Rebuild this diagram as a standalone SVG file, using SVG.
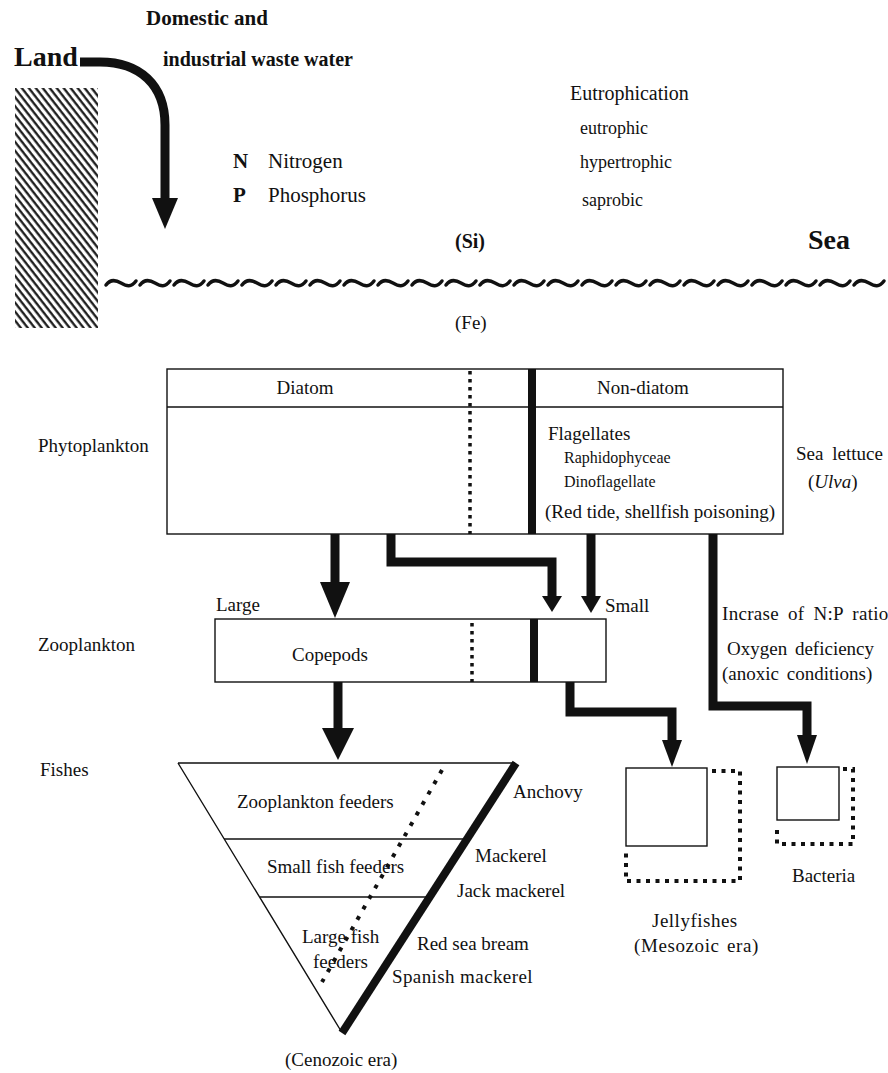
<svg xmlns="http://www.w3.org/2000/svg" xmlns:xlink="http://www.w3.org/1999/xlink" width="888" height="1073" viewBox="0 0 888 1073" font-family="'Liberation Serif', 'DejaVu Serif', serif">
<style>
text{font-family:'Liberation Serif','DejaVu Serif',serif;fill:#111;font-size:19px}
.b{font-weight:bold}
.s16{font-size:16px}
.s18{font-size:18px}
.s20{font-size:20px}
.s21{font-size:21px}
.s28{font-size:28px}
.mid{text-anchor:middle}
.box{fill:none;stroke:#111;stroke-width:1.4}
.thick{stroke:#111;stroke-width:8;fill:none}
.dots{stroke:#111;stroke-width:3.5;stroke-dasharray:3.5 4.5;fill:none}
.dots2{stroke:#111;stroke-width:4;stroke-dasharray:4 5.5;fill:none}
.shaft{stroke:#111;fill:none;stroke-width:9;stroke-linejoin:miter}
.head{fill:#111;stroke:none}
.thin{stroke:#111;stroke-width:1.4;fill:none}
</style>
<defs>
<pattern id="hatch" width="5.5" height="10" patternUnits="userSpaceOnUse" patternTransform="rotate(-38)">
<line x1="1.5" y1="0" x2="1.5" y2="10" stroke="#111" stroke-width="2.2"/>
</pattern>
<path id="tilde" d="M0 3 C4 -2.5 9 -2.5 15 1 S25 5.5 30 -1" fill="none" stroke="#111" stroke-width="3.5" stroke-linecap="round"/>
</defs>

<g id="land">
<rect x="15" y="88" width="83" height="240" fill="url(#hatch)"/>
<text class="b s28" x="14" y="66">Land</text>
</g>

<g id="waste-label">
<text class="b s21" x="146" y="25">Domestic and</text>
<text class="b s20" x="163" y="66">industrial waste water</text>
</g>

<g id="nutrients">
<text class="b s21" x="233" y="168">N</text>
<text class="s21" x="268" y="168">Nitrogen</text>
<text class="b s21" x="233" y="202">P</text>
<text class="s21" x="268" y="202">Phosphorus</text>
</g>

<g id="eutrophication">
<text class="s20" x="570" y="100">Eutrophication</text>
<text class="s18" x="580" y="134">eutrophic</text>
<text class="s18" x="580" y="168">hypertrophic</text>
<text class="s18" x="582" y="206">saprobic</text>
</g>

<g id="sea">
<text class="b s20" x="455" y="248">(Si)</text>
<text class="b s28" x="808" y="249">Sea</text>
<g id="surface">
<use xlink:href="#tilde" x="106" y="282"/><use xlink:href="#tilde" x="140" y="282"/><use xlink:href="#tilde" x="174" y="282"/><use xlink:href="#tilde" x="208" y="282"/><use xlink:href="#tilde" x="242" y="282"/><use xlink:href="#tilde" x="276" y="282"/><use xlink:href="#tilde" x="310" y="282"/><use xlink:href="#tilde" x="344" y="282"/><use xlink:href="#tilde" x="378" y="282"/><use xlink:href="#tilde" x="412" y="282"/><use xlink:href="#tilde" x="446" y="282"/><use xlink:href="#tilde" x="480" y="282"/><use xlink:href="#tilde" x="514" y="282"/><use xlink:href="#tilde" x="548" y="282"/><use xlink:href="#tilde" x="582" y="282"/><use xlink:href="#tilde" x="616" y="282"/><use xlink:href="#tilde" x="650" y="282"/><use xlink:href="#tilde" x="684" y="282"/><use xlink:href="#tilde" x="718" y="282"/><use xlink:href="#tilde" x="752" y="282"/><use xlink:href="#tilde" x="786" y="282"/><use xlink:href="#tilde" x="820" y="282"/><use xlink:href="#tilde" x="854" y="282"/>
</g>
<text x="455" y="329">(Fe)</text>
</g>

<g id="phytoplankton">
<text x="38" y="452">Phytoplankton</text>
<rect class="box" x="167" y="369" width="616" height="165"/>
<line class="thin" x1="167" y1="407" x2="783" y2="407"/>
<line class="dots" x1="470" y1="371" x2="470" y2="534"/>
<line class="thick" x1="532" y1="369" x2="532" y2="534"/>
<text class="mid" x="305" y="394">Diatom</text>
<text class="mid" x="643" y="394">Non-diatom</text>
<text x="548" y="440">Flagellates</text>
<text class="s16" x="564" y="463">Raphidophyceae</text>
<text class="s16" x="564" y="487">Dinoflagellate</text>
<text x="545" y="518">(Red tide, shellfish poisoning)</text>
</g>

<g id="sea-lettuce">
<text x="796" y="460" word-spacing="4">Sea lettuce</text>
<text x="808" y="488">(<tspan font-style="italic">Ulva</tspan>)</text>
</g>

<g id="zooplankton">
<text x="38" y="651">Zooplankton</text>
<text x="216" y="611">Large</text>
<text x="605" y="612">Small</text>
<rect class="box" x="215" y="619" width="391" height="63"/>
<line class="dots" x1="472" y1="623" x2="472" y2="682"/>
<line class="thick" x1="534" y1="619" x2="534" y2="682"/>
<text class="mid" x="330" y="661">Copepods</text>
</g>

<g id="conditions">
<text x="722" y="620" word-spacing="4" letter-spacing="0.3">Incrase of N:P ratio</text>
<text x="727" y="655" word-spacing="3">Oxygen deficiency</text>
<text x="722" y="680" word-spacing="3">(anoxic conditions)</text>
</g>

<g id="fishes">
<text x="40" y="776">Fishes</text>
<path class="thin" d="M178 763 H515 M178 763 L341 1031"/>
<line class="thick" x1="516" y1="763" x2="342" y2="1033"/>
<line class="thin" x1="224" y1="839" x2="466" y2="839"/>
<line class="thin" x1="260" y1="897" x2="429" y2="897"/>
<line stroke="#111" stroke-width="4" stroke-dasharray="4 8" x1="442" y1="770" x2="322" y2="982"/>
<text x="237" y="808">Zooplankton feeders</text>
<text x="267" y="873">Small fish feeders</text>
<text x="302" y="943">Large fish</text>
<text x="313" y="968">feeders</text>
<text x="513" y="798">Anchovy</text>
<text x="475" y="862">Mackerel</text>
<text x="457" y="897">Jack mackerel</text>
<text x="417" y="950">Red sea bream</text>
<text x="392" y="983" letter-spacing="0.4">Spanish mackerel</text>
<text x="285" y="1066">(Cenozoic era)</text>
</g>

<g id="jellyfishes">
<rect class="box" x="626" y="768" width="81" height="78"/>
<path class="dots2" d="M712 771 H740 V881 H626 V850"/>
<text x="652" y="927" letter-spacing="0.5">Jellyfishes</text>
<text x="634" y="952" letter-spacing="0.6" word-spacing="2">(Mesozoic era)</text>
</g>

<g id="bacteria">
<rect class="box" x="777" y="767" width="62" height="53"/>
<path class="dots2" d="M843 769 H853 V844 H777 V826"/>
<text x="792" y="882">Bacteria</text>
</g>

<g id="connectors">
<path class="shaft" d="M80 62 H100 C140 62 165 85 165 125 V200"/>
<polygon class="head" points="152,198 178,198 165,229"/>
<line class="shaft" stroke-width="13" x1="335" y1="534" x2="335" y2="584"/>
<polygon class="head" points="320,582 350,582 335,618"/>
<path class="shaft" d="M391 534 V562 H552 V598"/>
<polygon class="head" points="542,596 562,596 552,612"/>
<line class="shaft" x1="591" y1="534" x2="591" y2="598"/>
<polygon class="head" points="581,596 601,596 591,613"/>
<line class="shaft" stroke-width="12" x1="338" y1="682" x2="338" y2="730"/>
<polygon class="head" points="322,728 354,728 338,760"/>
<path class="shaft" d="M570 682 V712 H672 V742"/>
<polygon class="head" points="662,740 682,740 672,767"/>
<path class="shaft" d="M713 534 V706 H807 V737"/>
<polygon class="head" points="797,735 817,735 807,764"/>
</g>
</svg>
